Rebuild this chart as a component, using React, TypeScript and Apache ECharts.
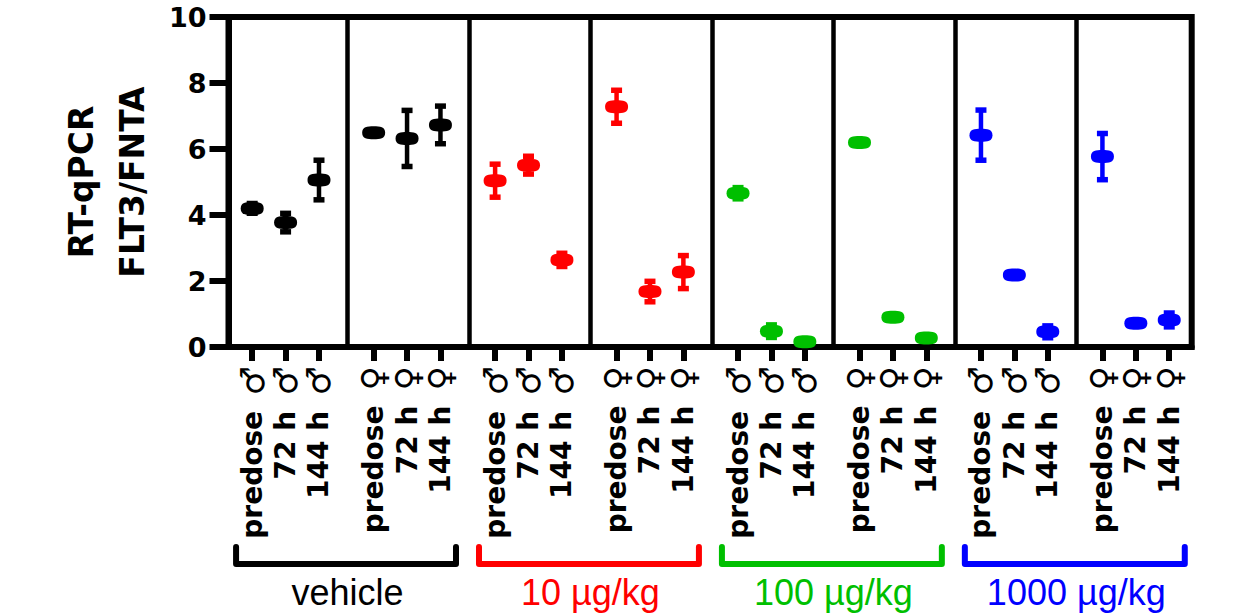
import React, { useEffect, useRef } from 'react';
import * as echarts from 'echarts';

// ---- data ----
const groups = ['vehicle', '10 µg/kg', '100 µg/kg', '1000 µg/kg'];
const groupColors = ['#000000', '#ff0000', '#00bf00', '#0000ff'];
const sexes = ['♂', '♀'];
const timepoints = ['predose', '72 h', '144 h'];
const yTicks = [0, 2, 4, 6, 8, 10];

// means (predose, 72 h, 144 h)
const vehicleMale = [4.2, 3.77, 5.06];
const vehicleFemale = [6.49, 6.32, 6.73];
const dose10Male = [5.04, 5.51, 2.64];
const dose10Female = [7.28, 1.68, 2.27];
const dose100Male = [4.66, 0.48, 0.16];
const dose100Female = [6.2, 0.9, 0.27];
const dose1000Male = [6.42, 2.18, 0.46];
const dose1000Female = [5.77, 0.72, 0.82];

// error (± SEM)
const vehicleMaleErr = [0.15, 0.28, 0.6];
const vehicleFemaleErr = [0, 0.85, 0.57];
const dose10MaleErr = [0.5, 0.27, 0.2];
const dose10FemaleErr = [0.5, 0.31, 0.5];
const dose100MaleErr = [0.17, 0.19, 0];
const dose100FemaleErr = [0, 0, 0];
const dose1000MaleErr = [0.76, 0, 0.18];
const dose1000FemaleErr = [0.7, 0, 0.21];

const panels = [
  { group: 0, sex: 0, mean: vehicleMale, err: vehicleMaleErr },
  { group: 0, sex: 1, mean: vehicleFemale, err: vehicleFemaleErr },
  { group: 1, sex: 0, mean: dose10Male, err: dose10MaleErr },
  { group: 1, sex: 1, mean: dose10Female, err: dose10FemaleErr },
  { group: 2, sex: 0, mean: dose100Male, err: dose100MaleErr },
  { group: 2, sex: 1, mean: dose100Female, err: dose100FemaleErr },
  { group: 3, sex: 0, mean: dose1000Male, err: dose1000MaleErr },
  { group: 3, sex: 1, mean: dose1000Female, err: dose1000FemaleErr },
];

// layout of the three time points inside one panel (panel width = 1)
const slotOffsets = [0.215, 0.49, 0.765];

const BOLD = '"DejaVu Sans"';

export default function App() {
  const ref = useRef<HTMLDivElement>(null);

  useEffect(() => {
    if (!ref.current) return;
    const chart = echarts.init(ref.current, null, { renderer: 'svg' });

    const positions: number[] = [];
    const labels: string[] = [];
    const scatterData: number[][][] = groups.map(() => []);
    const errData: number[][] = [];
    panels.forEach((p, pi) => {
      p.mean.forEach((m, j) => {
        const x = pi + slotOffsets[j];
        positions.push(x);
        labels.push('{t|' + timepoints[j] + '}{g|  }{s|' + sexes[p.sex] + '}');
        scatterData[p.group].push([x, m]);
        if (p.err[j] > 0) errData.push([x, m - p.err[j], m + p.err[j], p.group]);
      });
    });
    const dividers: number[] = [];
    for (let i = 1; i < panels.length; i++) dividers.push(i);
    const bracketData = groups.map((_, g) => [2 * g, 2 * g + 2, g]);

    const labelFor = (value: number) => {
      let best = 0;
      for (let i = 1; i < positions.length; i++) {
        if (Math.abs(positions[i] - value) < Math.abs(positions[best] - value)) best = i;
      }
      return labels[best];
    };

    const markerPath =
      'path://M0,6.5 C0,0.5 5,0 11.5,0 C18,0 23,0.5 23,6.5 C23,12.5 18,13 11.5,13 C5,13 0,12.5 0,6.5 Z';

    const option: any = {
      animation: false,
      backgroundColor: '#ffffff',
      grid: {
        left: 228.5,
        right: 50.3,
        top: 17,
        bottom: 269,
        show: true,
        borderColor: '#000',
        borderWidth: 6,
        backgroundColor: 'transparent',
      },
      xAxis: {
        type: 'value',
        min: 0.02,
        max: 7.95,
        axisLine: { show: true, lineStyle: { color: '#000', width: 6 } },
        splitLine: { show: false },
        axisTick: {
          show: true,
          customValues: positions,
          length: 14,
          lineStyle: { color: '#000', width: 6 },
        },
        axisLabel: {
          show: true,
          customValues: positions,
          rotate: 90,
          margin: 19,
          color: '#000',
          fontFamily: BOLD,
          fontWeight: 'bold',
          fontSize: 28,
          formatter: (v: number) => labelFor(v),
          rich: {
            t: {
              color: '#000',
              fontFamily: BOLD,
              fontWeight: 'bold',
              fontSize: 28,
              verticalAlign: 'middle',
            },
            g: { fontSize: 22, fontFamily: BOLD, verticalAlign: 'middle' },
            s: {
              color: '#000',
              fontFamily: BOLD,
              fontWeight: 'bold',
              fontSize: 33,
              verticalAlign: 'middle',
            },
          },
        },
      },
      yAxis: {
        type: 'value',
        min: 0,
        max: 10,
        interval: 2,
        name: 'RT-qPCR\nFLT3/FNTA',
        nameLocation: 'middle',
        nameRotate: 90,
        nameGap: 70,
        nameTextStyle: {
          color: '#000',
          fontFamily: BOLD,
          fontWeight: 'bold',
          fontSize: 33,
          lineHeight: 51,
        },
        axisLine: { show: true, lineStyle: { color: '#000', width: 6 } },
        splitLine: { show: false },
        axisTick: { show: true, length: 19, lineStyle: { color: '#000', width: 6 } },
        axisLabel: {
          margin: 22,
          color: '#000',
          fontFamily: BOLD,
          fontWeight: 'bold',
          fontSize: 27,
          formatter: (v: number) => (yTicks.includes(v) ? String(v) : ''),
        },
      },
      series: [
        {
          type: 'custom',
          name: 'errors',
          z: 2,
          silent: true,
          clip: false,
          encode: { x: 0, y: [1, 2] },
          data: errData,
          renderItem: (params: any, api: any) => {
            const x = api.value(0);
            const lo = api.value(1);
            const hi = api.value(2);
            const color = groupColors[api.value(3)];
            const top = api.coord([x, hi]);
            const bot = api.coord([x, lo]);
            const capW = 11;
            const capH = 5.5;
            return {
              type: 'group',
              children: [
                {
                  type: 'line',
                  shape: { x1: top[0], y1: top[1], x2: bot[0], y2: bot[1] },
                  style: { stroke: color, lineWidth: 4.5 },
                },
                {
                  type: 'rect',
                  shape: { x: top[0] - capW / 2, y: top[1] - capH / 2, width: capW, height: capH },
                  style: { fill: color },
                },
                {
                  type: 'rect',
                  shape: { x: bot[0] - capW / 2, y: bot[1] - capH / 2, width: capW, height: capH },
                  style: { fill: color },
                },
              ],
            };
          },
        },
        ...groups.map((g, gi) => ({
          type: 'scatter',
          name: g,
          z: 3,
          silent: true,
          symbol: markerPath,
          symbolSize: [23, 13],
          itemStyle: { color: groupColors[gi], opacity: 1 },
          data: scatterData[gi],
          markLine:
            gi === 0
              ? {
                  silent: true,
                  symbol: ['none', 'none'],
                  label: { show: false },
                  lineStyle: { color: '#000', width: 4.5, type: 'solid' },
                  emphasis: { disabled: true },
                  data: dividers.map((d) => ({ xAxis: d })),
                }
              : undefined,
        })),
        {
          type: 'custom',
          name: 'brackets',
          z: 4,
          silent: true,
          clip: false,
          encode: { x: [0, 1] },
          data: bracketData,
          renderItem: (params: any, api: any) => {
            const a = api.coord([api.value(0), 0]);
            const b = api.coord([api.value(1), 0]);
            const g = api.value(2);
            const color = groupColors[g];
            const x1 = a[0] + 10;
            const x2 = b[0] - 13;
            const yTop = a[1] + 200;
            const yBot = a[1] + 217;
            return {
              type: 'group',
              children: [
                {
                  type: 'polyline',
                  shape: { points: [[x1, yTop], [x1, yBot], [x2, yBot], [x2, yTop]] },
                  style: { stroke: color, lineWidth: 6, fill: null, lineCap: 'round', lineJoin: 'round' },
                },
                {
                  type: 'text',
                  x: (a[0] + b[0]) / 2,
                  y: a[1] + 245,
                  style: {
                    text: groups[g],
                    fill: color,
                    font: '36px "Liberation Sans"',
                    align: 'center',
                    verticalAlign: 'middle',
                  },
                },
              ],
            };
          },
        },
      ],
    };

    chart.setOption(option);
    return () => chart.dispose();
  }, []);

  return (
    <div
      ref={ref}
      style={{ position: 'fixed', left: 0, top: 0, width: 1242, height: 616, background: '#fff' }}
    />
  );
}
